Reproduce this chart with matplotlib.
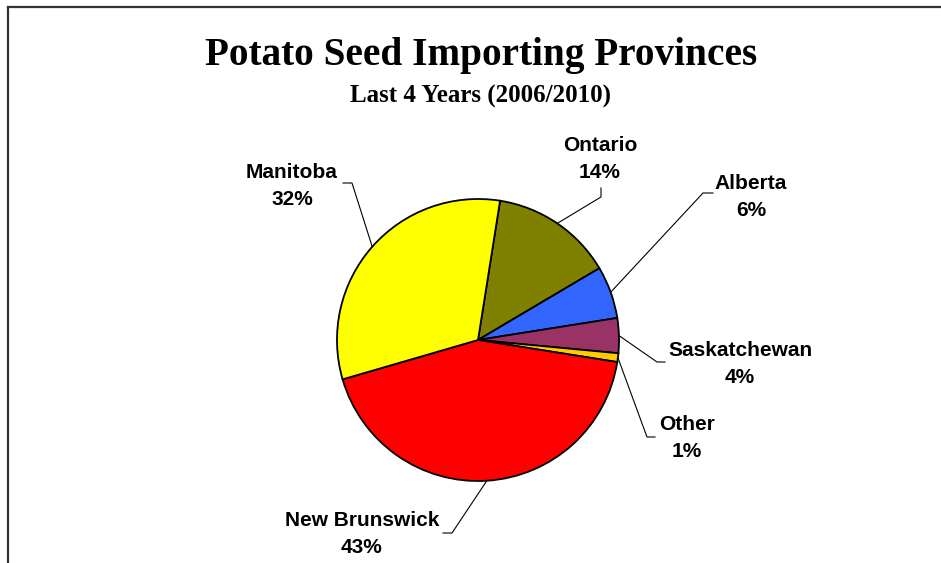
import numpy as np
import matplotlib
matplotlib.use("Agg")
import matplotlib.pyplot as plt

# ---- data ----
provinces = ["Ontario", "Alberta", "Saskatchewan", "Other", "New Brunswick", "Manitoba"]
shares = [14, 6, 4, 1, 43, 32]
colors = ["#808000", "#3366FF", "#993366", "#FFCC00", "#FF0000", "#FFFF00"]
title = "Potato Seed Importing Provinces"
subtitle = "Last 4 Years (2006/2010)"

# ---- layout (pixel coordinates measured from top-left) ----
W, H = 941, 563
def Y(y):
    return H - y

center_px = (478, 340)
radius_px = 141
# label block centre, elbow point of leader, end of stub (near text)
label_layout = {
    "Ontario":       ((600, 159), (601, 197), (601, 188)),
    "Alberta":       ((751, 197), (703, 193), (713, 193)),
    "Saskatchewan":  ((740, 364), (657, 362), (665, 362)),
    "Other":         ((687, 438), (647, 437), (655, 437)),
    "New Brunswick": ((362, 534), (452, 533), (443, 533)),
    "Manitoba":      ((292, 186), (352, 183), (343, 183)),
}

fig = plt.figure(figsize=(W / 100, H / 100), dpi=100)
ax = fig.add_axes([0, 0, 1, 1])

wedges, _ = ax.pie(shares, colors=colors, startangle=81, counterclock=False,
                   center=(center_px[0], Y(center_px[1])), radius=radius_px,
                   wedgeprops=dict(edgecolor="black", linewidth=1.3),
                   frame=True)
ax.set_xlim(0, W)
ax.set_ylim(0, H)
ax.set_aspect("equal")
ax.axis("off")

for w, name, val in zip(wedges, provinces, shares):
    (tx, ty), (ex, ey), (sx, sy) = label_layout[name]
    mid = np.deg2rad((w.theta1 + w.theta2) / 2)
    px = center_px[0] + radius_px * np.cos(mid)
    py = Y(center_px[1]) + radius_px * np.sin(mid)
    ax.plot([px, ex, sx], [py, Y(ey), Y(sy)], color="black", linewidth=0.8,
            solid_joinstyle="miter")
    ax.text(tx, Y(ty), f"{name}\n{val}%", ha="center", va="center",
            fontsize=15, fontweight="bold", family="Liberation Sans",
            linespacing=1.5, color="black")

ax.text(481, Y(56), title, ha="center", va="center", fontsize=28.3,
        fontweight="bold", family="Liberation Serif")
ax.text(481, Y(96), subtitle, ha="center", va="center", fontsize=18,
        fontweight="bold", family="Liberation Serif")

# chart border (top and left visible)
ax.plot([8, W], [Y(7), Y(7)], color="#333333", linewidth=1.6)
ax.plot([8, 8], [Y(7), 0], color="#333333", linewidth=1.6)

fig.savefig("out.png", dpi=100)
